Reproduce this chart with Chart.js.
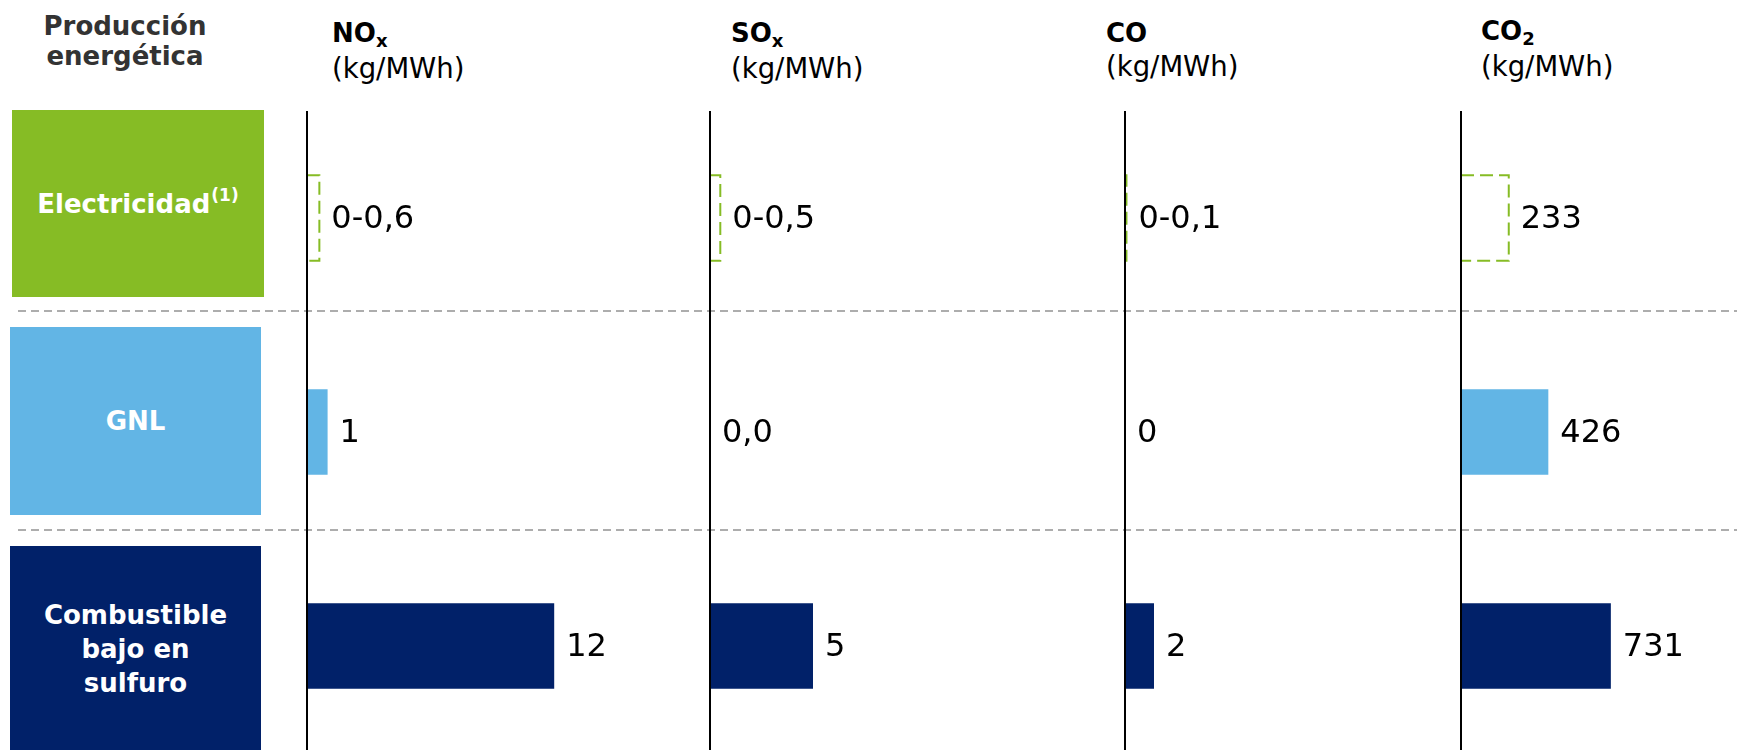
<!DOCTYPE html>
<html lang="es">
<head>
<meta charset="utf-8">
<title>Emisiones por tipo de producción energética</title>
<script src="https://cdn.jsdelivr.net/npm/chart.js@4.4.1/dist/chart.umd.min.js"></script>
<style>
  html, body { margin: 0; padding: 0; background: #fff; width: 1737px; height: 750px; overflow: hidden;
               font-family: "DejaVu Sans", Verdana, sans-serif; }
  .abs { position: absolute; }
  .corner { left: 25px; top: 11px; width: 200px; text-align: center; font-size: 26px; line-height: 30px;
            font-weight: bold; color: #333; }
  .head { font-size: 26px; line-height: 33px; color: #000; white-space: nowrap; }
  .head .name { font-weight: bold; }
  .head .sub { font-size: 18px; position: relative; top: 5px; font-weight: bold; }
  .head .unit { font-size: 27.5px; }
  .box { display: flex; align-items: center; justify-content: center; color: #fff; font-weight: bold;
         text-align: center; font-size: 26px; }
  .box .note { font-size: 17px; position: relative; top: -9px; margin-left: 1px; }
  .boxText { color: #fff; font-weight: bold; text-align: center; font-size: 26px; line-height: 34px; }
  .sep { left: 18px; width: 1719px; height: 2px;
         background-image: linear-gradient(to right, #adadad 8px, rgba(255,255,255,0) 8px);
         background-size: 13px 2px; }
  canvas { position: absolute; }
</style>
</head>
<body>
<script>
// ---- data ----------------------------------------------------------------
const categories = ['Electricidad', 'GNL', 'Combustible bajo en sulfuro'];
const categoryNote = '(1)';                        // footnote marker on "Electricidad"
const pollutantNames = ['NO', 'SO', 'CO', 'CO'];
const pollutantSubs  = ['x', 'x', '', '2'];
const unitLabel = '(kg/MWh)';

// Electricidad is given as a range 0 – upper bound
const electricidadMax    = [0.6, 0.5, 0.1, 233];
const gnlValues          = [1, 0.0, 0, 426];
const combustibleValues  = [12, 5, 2, 731];

const electricidadLabels = ['0-0,6', '0-0,5', '0-0,1', '233'];
const gnlLabels          = ['1', '0,0', '0', '426'];
const combustibleLabels  = ['12', '5', '2', '731'];

// ---- layout & style --------------------------------------------------------
const rowColors = ['#86BC25', '#62B5E5', '#012169'];
const panels = [
  { axisX: 307,  plotWidth: 412, max: 20,   headX: 332,  headY: 17 },
  { axisX: 710,  plotWidth: 412, max: 20,   headX: 731,  headY: 17 },
  { axisX: 1125, plotWidth: 290, max: 20,   headX: 1106, headY: 17 },
  { axisX: 1461, plotWidth: 205, max: 1000, headX: 1481, headY: 15 }
];
const PLOT_TOP = 111, PLOT_HEIGHT = 642, PAD_LEFT = 4, LABEL_ROOM = 90;
const VALUE_FONT = '32px "DejaVu Sans", Verdana, sans-serif';

function el(tag, cls, css, html) {
  const e = document.createElement(tag);
  e.className = cls;
  Object.assign(e.style, css || {});
  if (html !== undefined) e.innerHTML = html;
  document.body.appendChild(e);
  return e;
}

// separators between rows
el('div', 'abs sep', { top: '310px' });
el('div', 'abs sep', { top: '529px' });

// corner heading
el('div', 'abs corner', {}, 'Producción<br>energética');

// row heading boxes
el('div', 'abs box', { left: '12px', top: '110px', width: '252px', height: '187px', background: rowColors[0] },
   categories[0] + '<span class="note">' + categoryNote + '</span>');
el('div', 'abs box', { left: '10px', top: '327px', width: '251px', height: '188px', background: rowColors[1] },
   categories[1]);
el('div', 'abs', { left: '10px', top: '546px', width: '251px', height: '220px', background: rowColors[2] });
el('div', 'abs boxText', { left: '10px', top: '598px', width: '251px' }, 'Combustible<br>bajo en<br>sulfuro');

// column headings
panels.forEach((p, i) => {
  const sub = pollutantSubs[i] ? '<span class="sub">' + pollutantSubs[i] + '</span>' : '';
  el('div', 'abs head', { left: p.headX + 'px', top: p.headY + 'px' },
     '<span class="name">' + pollutantNames[i] + sub + '</span><br><span class="unit">' + unitLabel + '</span>');
});

// one horizontal bar chart per pollutant, each with its own value scale
const rowLabels = [electricidadLabels, gnlLabels, combustibleLabels];

panels.forEach((p, i) => {
  const canvas = document.createElement('canvas');
  const width = PAD_LEFT + p.plotWidth + LABEL_ROOM;
  canvas.width = width;
  canvas.height = PLOT_HEIGHT;
  canvas.style.left = (p.axisX - PAD_LEFT) + 'px';
  canvas.style.top = PLOT_TOP + 'px';
  document.body.appendChild(canvas);

  const marks = {
    id: 'panelMarks',
    afterDatasetsDraw(chart) {
      const ctx = chart.ctx;
      const xs = chart.scales.x;
      const elems = chart.getDatasetMeta(0).data;

      // dashed bracket for the Electricidad range
      const r = elems[0];
      const x0 = Math.min(r.base, r.x), x1 = Math.max(r.base, r.x);
      const top = r.y - r.height / 2, bottom = r.y + r.height / 2;
      ctx.save();
      ctx.strokeStyle = rowColors[0];
      ctx.lineWidth = 2;
      ctx.setLineDash([13, 6]);
      ctx.beginPath();
      ctx.moveTo(x0, top);
      ctx.lineTo(x1, top);
      ctx.lineTo(x1, bottom);
      ctx.lineTo(x0, bottom);
      ctx.stroke();
      ctx.restore();

      // value labels
      ctx.save();
      ctx.font = VALUE_FONT;
      ctx.fillStyle = '#000';
      ctx.textBaseline = 'middle';
      ctx.textAlign = 'left';
      elems.forEach((b, j) => {
        const end = Math.max(b.base, b.x);
        ctx.fillText(rowLabels[j][i], end + 12, b.y + 2);
      });
      ctx.restore();

      // zero axis line
      const zx = Math.round(xs.getPixelForValue(0));
      ctx.save();
      ctx.strokeStyle = '#000';
      ctx.lineWidth = 2;
      ctx.beginPath();
      ctx.moveTo(zx, chart.chartArea.top);
      ctx.lineTo(zx, chart.height);
      ctx.stroke();
      ctx.restore();
    }
  };

  new Chart(canvas, {
    type: 'bar',
    data: {
      labels: categories,
      datasets: [{
        data: [[0, electricidadMax[i]], gnlValues[i], combustibleValues[i]],
        backgroundColor: ['rgba(0,0,0,0)', rowColors[1], rowColors[2]],
        borderWidth: 0,
        barPercentage: 0.4,
        categoryPercentage: 1
      }]
    },
    options: {
      indexAxis: 'y',
      responsive: false,
      animation: false,
      events: [],
      layout: { padding: { left: PAD_LEFT, right: LABEL_ROOM, top: 0, bottom: 0 } },
      scales: {
        x: { display: false, min: 0, max: p.max },
        y: { display: false }
      },
      plugins: { legend: { display: false }, tooltip: { enabled: false } }
    },
    plugins: [marks]
  });
});
</script>
</body>
</html>
